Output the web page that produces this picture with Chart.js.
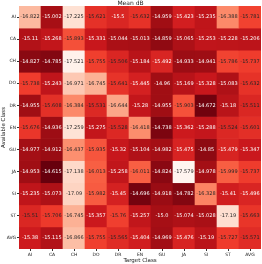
<!DOCTYPE html>
<html>
<head>
<meta charset="utf-8">
<script src="https://cdn.jsdelivr.net/npm/chart.js@4/dist/chart.umd.min.js"></script>
<style>
  html, body { margin: 0; padding: 0; background: #fff; }
  #wrap { width: 262px; height: 264px; }
</style>
</head>
<body>
<div id="wrap"><canvas id="heat"></canvas></div>
<script>
// rows = available class, columns = target class
const rowLabels = ['AI', 'CA', 'CH', 'DO', 'DR', 'EN', 'GU', 'JA', 'SI', 'ST', 'AVG'];
const colLabels = ['AI', 'CA', 'CH', 'DO', 'DR', 'EN', 'GU', 'JA', 'SI', 'ST', 'AVG'];

const dbAI  = [-16.822, -15.002, -17.225, -15.621, -15.5, -15.632, -14.959, -15.423, -15.235, -16.388, -15.781];
const dbCA  = [-15.11, -15.268, -15.893, -15.331, -15.044, -15.013, -14.859, -15.065, -15.253, -15.228, -15.206];
const dbCH  = [-14.827, -14.785, -17.521, -15.755, -15.506, -15.184, -15.492, -14.933, -14.941, -15.786, -15.737];
const dbDO  = [-15.738, -15.243, -16.971, -16.745, -15.641, -15.445, -14.96, -15.169, -15.328, -15.083, -15.632];
const dbDR  = [-14.955, -15.608, -16.384, -15.531, -16.644, -15.28, -14.955, -15.903, -14.672, -15.18, -15.511];
const dbEN  = [-15.676, -14.936, -17.259, -15.275, -15.528, -16.418, -14.738, -15.362, -15.288, -15.524, -15.601];
const dbGU  = [-14.977, -14.912, -16.437, -15.935, -15.32, -15.104, -14.982, -15.475, -14.85, -15.479, -15.347];
const dbJA  = [-14.953, -14.615, -17.138, -16.013, -15.258, -16.011, -14.824, -17.579, -14.978, -15.999, -15.737];
const dbSI  = [-15.235, -15.073, -17.09, -15.982, -15.45, -14.696, -14.918, -14.782, -16.328, -15.41, -15.496];
const dbST  = [-15.51, -15.706, -16.745, -15.357, -15.76, -15.257, -15.0, -15.074, -15.028, -17.19, -15.663];
const dbAVG = [-15.38, -15.115, -16.866, -15.755, -15.565, -15.404, -14.969, -15.476, -15.19, -15.727, -15.571];

const grid = [dbAI, dbCA, dbCH, dbDO, dbDR, dbEN, dbGU, dbJA, dbSI, dbST, dbAVG];

// matplotlib "Reds"
const reds = ['#fff5f0', '#fee0d2', '#fcbba1', '#fc9272', '#fb6a4a', '#ef3b2c', '#cb181d', '#a50f15', '#67000d'];
const allVals = grid.flat();
const vmin = Math.min(...allVals);
const vmax = Math.max(...allVals);

function hexRgb(h) {
  return [parseInt(h.slice(1, 3), 16), parseInt(h.slice(3, 5), 16), parseInt(h.slice(5, 7), 16)];
}
function colorFor(v) {
  let t = (v - vmin) / (vmax - vmin);
  t = Math.max(0, Math.min(1, t)) * (reds.length - 1);
  const i = Math.min(Math.floor(t), reds.length - 2);
  const f = t - i;
  const a = hexRgb(reds[i]), b = hexRgb(reds[i + 1]);
  return a.map((c, k) => Math.round(c + (b[k] - c) * f));
}
function fmt(v) {
  let s = String(v);
  if (!s.includes('.')) s += '.0';
  return s;
}

const datasets = grid.map((row, r) => ({
  label: rowLabels[r],
  data: row.map(() => 1),
  backgroundColor: row.map(v => 'rgb(' + colorFor(v).join(',') + ')'),
  borderWidth: 0,
  barPercentage: 1,
  categoryPercentage: 1
}));

// annotate each cell, dark text on the lighter cells
const cellText = {
  id: 'cellText',
  afterDatasetsDraw(chart) {
    const ctx = chart.ctx;
    ctx.save();
    ctx.font = '5px "DejaVu Sans"';
    ctx.textAlign = 'center';
    ctx.textBaseline = 'middle';
    chart.data.datasets.forEach((ds, r) => {
      const meta = chart.getDatasetMeta(r);
      meta.data.forEach((bar, c) => {
        const v = grid[r][c];
        ctx.fillStyle = v < -15.505 ? '#262626' : '#ffffff';
        ctx.fillText(fmt(v), bar.x, (bar.y + bar.base) / 2);
      });
    });
    ctx.restore();
  }
};

new Chart(document.getElementById('heat'), {
  type: 'bar',
  data: { labels: colLabels, datasets: datasets },
  plugins: [cellText],
  options: {
    responsive: true,
    maintainAspectRatio: false,
    animation: false,
    layout: { padding: { left: 0, right: 1, top: 0, bottom: 0 } },
    plugins: {
      legend: { display: false },
      tooltip: { enabled: false },
      title: {
        display: true,
        text: 'Mean dB',
        color: '#222',
        font: { family: 'DejaVu Sans', size: 6, weight: 'normal', lineHeight: 1 },
        padding: { top: 0, bottom: 0 }
      }
    },
    scales: {
      x: {
        stacked: true,
        offset: true,
        border: { display: false },
        grid: { display: true, drawOnChartArea: false, offset: false, tickLength: 2, color: '#333' },
        ticks: { color: '#222', font: { family: 'DejaVu Sans', size: 4.5 }, padding: 1, maxRotation: 0, autoSkip: false },
        title: { display: true, text: 'Target Class', color: '#222', font: { family: 'DejaVu Sans', size: 5.5 }, padding: 0 },
        afterFit: s => { s.height = 15; }
      },
      y: {
        stacked: true,
        min: 0,
        max: 11,
        reverse: true,
        border: { display: false },
        grid: { display: true, drawOnChartArea: false, tickLength: 2, color: '#333' },
        afterBuildTicks: s => { s.ticks = rowLabels.map((r, i) => ({ value: i + 0.5 })); },
        ticks: {
          color: '#222',
          font: { family: 'DejaVu Sans', size: 4.5 },
          padding: 1,
          autoSkip: false,
          callback: (value, index) => rowLabels[index]
        },
        title: { display: true, text: 'Available Class', color: '#222', font: { family: 'DejaVu Sans', size: 5.5 }, padding: 0 },
        afterFit: s => { s.width = 19; }
      }
    }
  }
});
</script>
</body>
</html>
